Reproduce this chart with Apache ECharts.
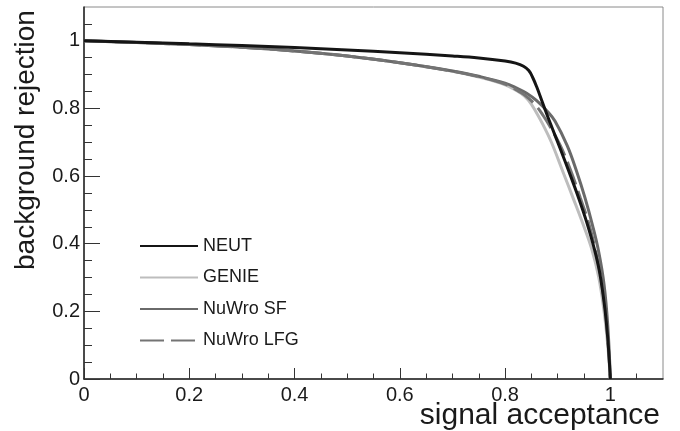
<!DOCTYPE html>
<html>
<head>
<meta charset="utf-8">
<script src="https://cdn.jsdelivr.net/npm/echarts@6/dist/echarts.min.js"></script>
<style>html,body{margin:0;padding:0;background:#fff}#c{width:680px;height:431px}</style>
</head>
<body>
<div id="c"></div>
<script>
// ---- data ----
var seriesNames = ['NEUT', 'GENIE', 'NuWro SF', 'NuWro LFG'];

var neutAcc = [0, 0.1, 0.2, 0.3, 0.4, 0.5, 0.6, 0.7, 0.75, 0.8, 0.82, 0.835, 0.845, 0.852, 0.86, 0.87, 0.88, 0.89, 0.905, 0.92, 0.94, 0.955, 0.97, 0.98, 0.99, 0.996, 1];
var neutRej = [1, 0.996, 0.991, 0.986, 0.98, 0.973, 0.965, 0.955, 0.949, 0.94, 0.934, 0.925, 0.912, 0.893, 0.864, 0.822, 0.78, 0.74, 0.68, 0.619, 0.534, 0.464, 0.382, 0.312, 0.202, 0.1, 0];

var genieAcc = [0, 0.1, 0.2, 0.3, 0.4, 0.5, 0.6, 0.7, 0.75, 0.8, 0.83, 0.844, 0.858, 0.872, 0.888, 0.91, 0.93, 0.948, 0.965, 0.978, 0.988, 0.995, 1];
var genieRej = [1, 0.995, 0.989, 0.981, 0.97, 0.955, 0.935, 0.91, 0.893, 0.87, 0.845, 0.825, 0.792, 0.752, 0.7, 0.612, 0.532, 0.458, 0.382, 0.3, 0.2, 0.1, 0];

var sfAcc = [0, 0.1, 0.2, 0.3, 0.4, 0.5, 0.6, 0.7, 0.75, 0.8, 0.82, 0.841, 0.86, 0.88, 0.895, 0.918, 0.935, 0.952, 0.966, 0.978, 0.988, 0.995, 1];
var sfRej = [1, 0.995, 0.989, 0.981, 0.97, 0.955, 0.935, 0.911, 0.895, 0.875, 0.862, 0.845, 0.823, 0.792, 0.762, 0.69, 0.618, 0.535, 0.455, 0.375, 0.28, 0.16, 0];

var lfgAcc = [0, 0.1, 0.2, 0.3, 0.4, 0.5, 0.6, 0.7, 0.75, 0.8, 0.83, 0.845, 0.86, 0.872, 0.884, 0.905, 0.925, 0.943, 0.958, 0.971, 0.983, 0.992, 1];
var lfgRej = [1, 0.995, 0.989, 0.981, 0.97, 0.955, 0.935, 0.91, 0.894, 0.872, 0.847, 0.83, 0.806, 0.78, 0.75, 0.69, 0.615, 0.535, 0.465, 0.385, 0.29, 0.18, 0];

var majorTicks = [0, 0.2, 0.4, 0.6, 0.8, 1];
var minorTicks = [0.05, 0.1, 0.15, 0.25, 0.3, 0.35, 0.45, 0.5, 0.55, 0.65, 0.7, 0.75, 0.85, 0.9, 0.95, 1.05];
var xTitle = 'signal acceptance';
var yTitle = 'background rejection';

// ---- build ----
function pairs(a, b) { return a.map(function (v, i) { return [v, b[i]]; }); }
var FONT = '"Liberation Sans", Arial, Helvetica, sans-serif';
var TXT = '#1a1a1a';
function fmt(v) { return (v === 0 || v === 1) ? String(v) : v.toFixed(1); }

var chart = echarts.init(document.getElementById('c'), null, { renderer: 'canvas' });

var lineBase = { type: 'line', symbol: 'none', showSymbol: false, smooth: 0.4, xAxisIndex: 0, yAxisIndex: 0, animation: false };

chart.setOption({
  animation: false,
  backgroundColor: '#fff',
  grid: { left: 84, top: 7, right: 17, bottom: 52, show: true, borderColor: '#8a8a8a', borderWidth: 1, backgroundColor: 'transparent', containLabel: false },
  xAxis: [
    {
      type: 'value', min: 0, max: 1.1, interval: 0.2, position: 'bottom',
      axisLine: { show: true, onZero: false, lineStyle: { color: '#222', width: 1.5 } },
      axisTick: { show: true, inside: true, length: 11, customValues: majorTicks, lineStyle: { color: '#333', width: 1 } },
      axisLabel: { show: true, customValues: majorTicks, formatter: fmt, fontSize: 20, fontFamily: FONT, color: TXT, margin: 6 },
      splitLine: { show: false }
    },
    {
      type: 'value', min: 0, max: 1.1, position: 'bottom',
      axisLine: { show: false },
      axisTick: { show: true, inside: true, length: 5.5, customValues: minorTicks, lineStyle: { color: '#333', width: 1 } },
      axisLabel: { show: false }, splitLine: { show: false }
    }
  ],
  yAxis: [
    {
      type: 'value', min: 0, max: 1.1, interval: 0.2, position: 'left',
      axisLine: { show: true, onZero: false, lineStyle: { color: '#222', width: 1.5 } },
      axisTick: { show: true, inside: true, length: 16, customValues: majorTicks, lineStyle: { color: '#333', width: 1 } },
      axisLabel: { show: true, customValues: majorTicks, formatter: fmt, fontSize: 20, fontFamily: FONT, color: TXT, margin: 4 },
      splitLine: { show: false }
    },
    {
      type: 'value', min: 0, max: 1.1, position: 'left',
      axisLine: { show: false },
      axisTick: { show: true, inside: true, length: 8, customValues: minorTicks, lineStyle: { color: '#333', width: 1 } },
      axisLabel: { show: false }, splitLine: { show: false }
    }
  ],
  legend: {
    orient: 'vertical', left: 134, top: 231,
    itemWidth: 58, itemHeight: 14, itemGap: 11.5,
    itemStyle: { color: 'rgba(0,0,0,0)', borderWidth: 0, opacity: 0 },
    textStyle: { fontSize: 18, fontFamily: FONT, color: TXT, lineHeight: 20 },
    data: seriesNames
  },
  graphic: [
    { type: 'text', x: 660, y: 416, style: { text: xTitle, fontSize: 30, fontFamily: FONT, fill: TXT, align: 'right', verticalAlign: 'middle' } },
    { type: 'text', x: 26, y: 270, rotation: Math.PI / 2, style: { text: yTitle, fontSize: 28, fontFamily: FONT, fill: TXT, align: 'left', verticalAlign: 'middle' } }
  ],
  series: [
    Object.assign({}, lineBase, { name: seriesNames[0], data: pairs(neutAcc, neutRej), color: '#151515', lineStyle: { color: '#151515', width: 3 }, z: 5 }),
    Object.assign({}, lineBase, { name: seriesNames[1], data: pairs(genieAcc, genieRej), color: '#bdbdbd', lineStyle: { color: '#bdbdbd', width: 3 }, z: 2 }),
    Object.assign({}, lineBase, { name: seriesNames[2], data: pairs(sfAcc, sfRej), color: '#6a6a6a', lineStyle: { color: '#6a6a6a', width: 3 }, z: 3 }),
    Object.assign({}, lineBase, { name: seriesNames[3], data: pairs(lfgAcc, lfgRej), color: '#747474', lineStyle: { color: '#747474', width: 3, type: [24, 7] }, z: 4 })
  ]
});
</script>
</body>
</html>
